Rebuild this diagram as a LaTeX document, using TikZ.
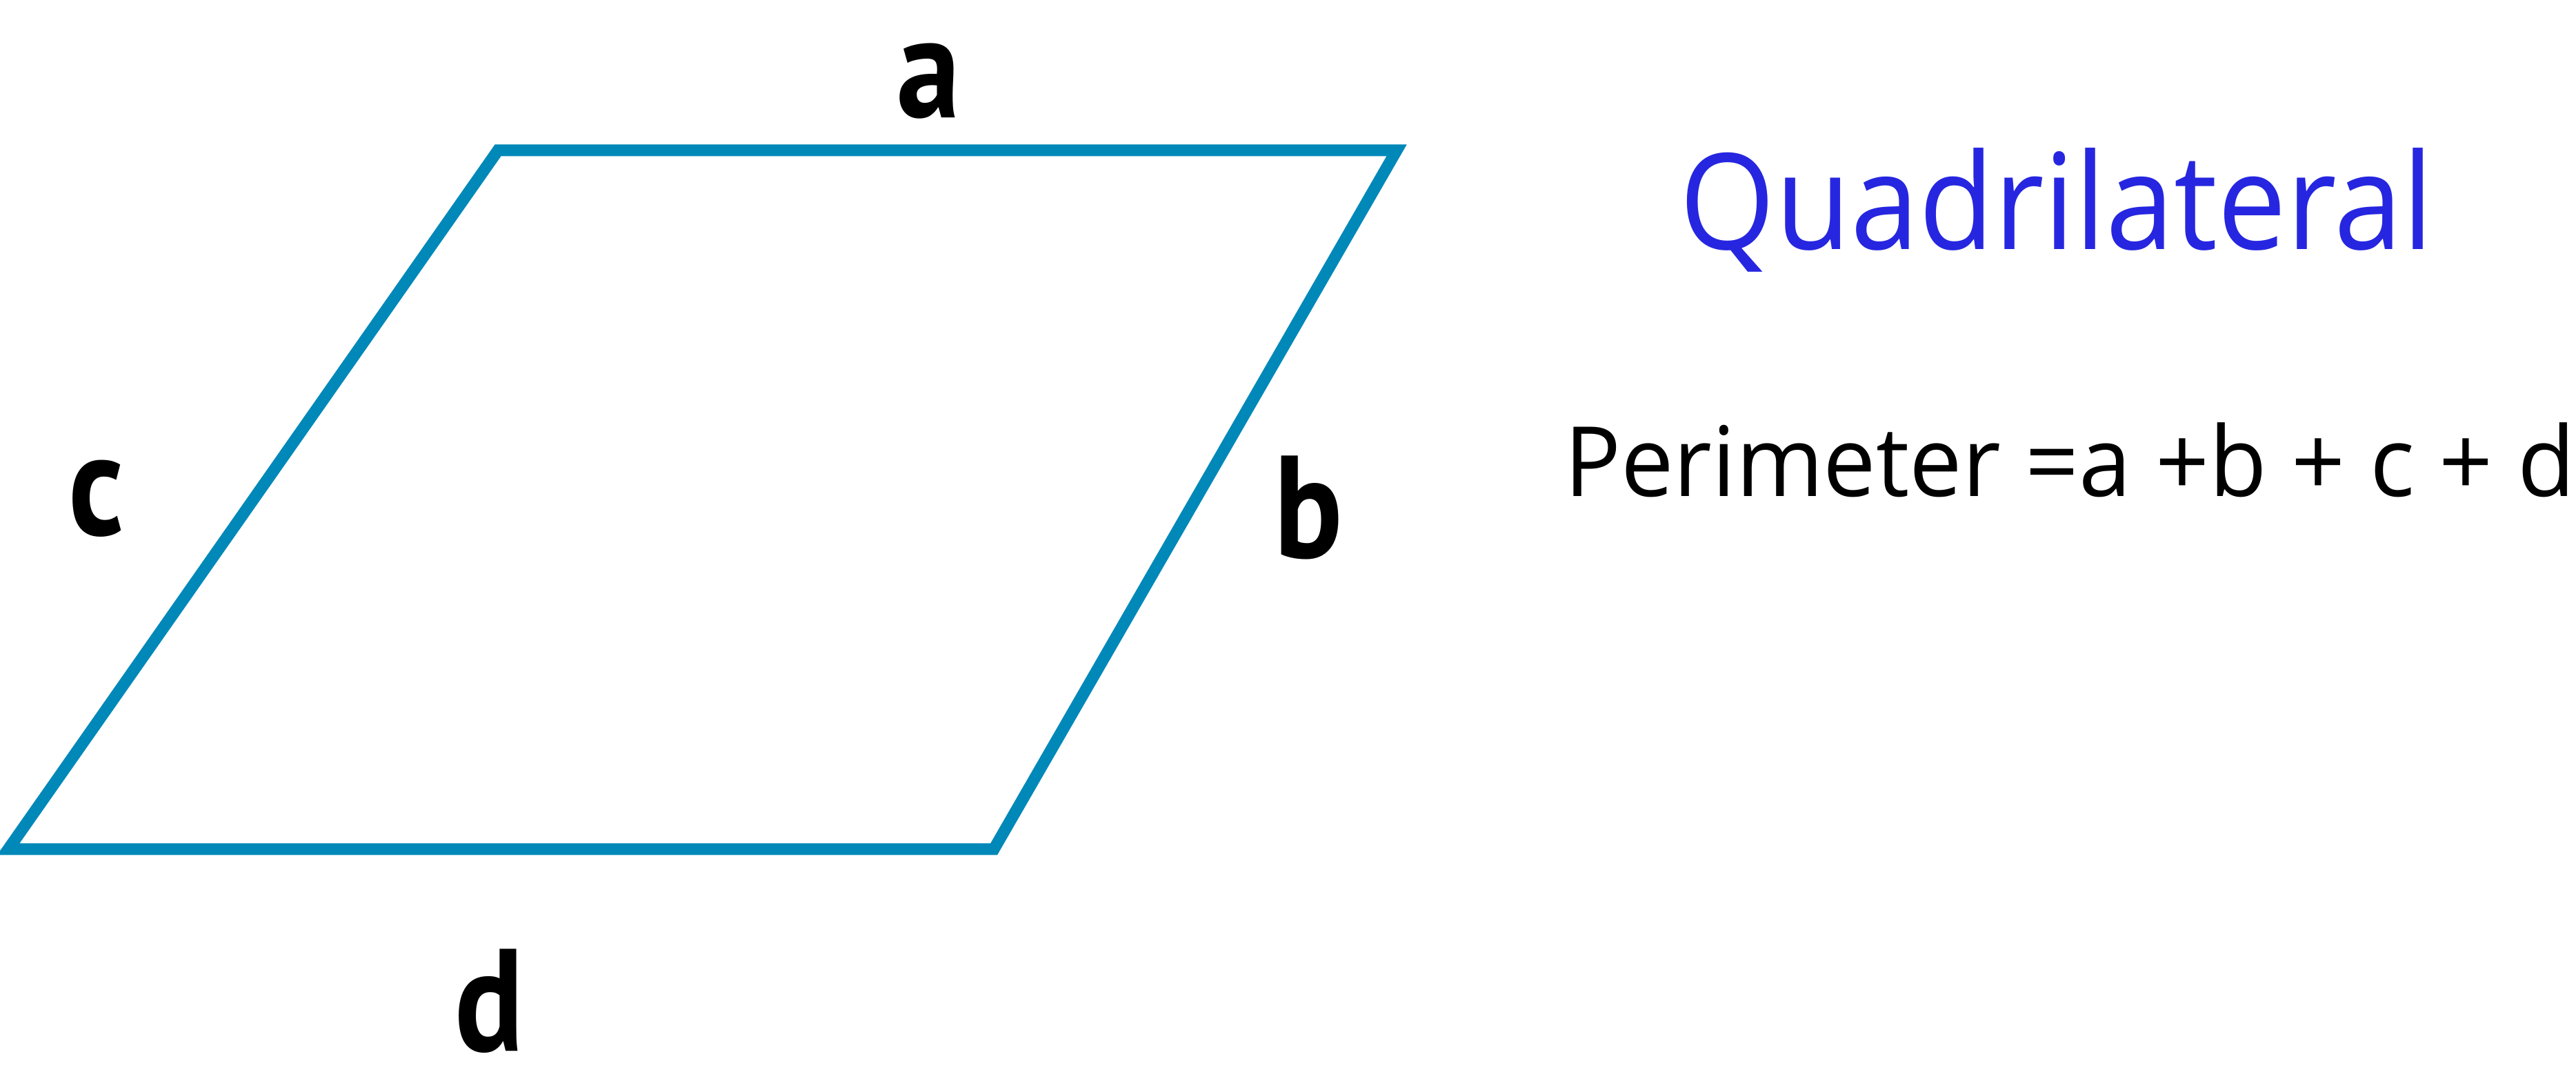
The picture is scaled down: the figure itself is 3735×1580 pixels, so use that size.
\documentclass[tikz,border=0pt]{standalone}
\usepackage{fontspec}
\setmainfont[FakeStretch=0.92]{Open Sans}
\newfontfamily\formulafont[FakeStretch=0.97]{Open Sans}
\newfontfamily\labelfont[FakeStretch=0.88]{PT Sans}
\usepackage{xcolor}
\definecolor{edgeblue}{HTML}{0088B8}
\definecolor{titleblue}{HTML}{2626E0}

\begin{document}
\begin{tikzpicture}[x=0.01cm,y=-0.01cm,
  sidelabel/.style={anchor=base,inner sep=0pt,font=\labelfont\bfseries\fontsize{60pt}{64pt}\selectfont},
  side/.style={draw=edgeblue,line width=0.17cm,line join=miter}]
  \useasboundingbox (0,0) rectangle (3735,1580);
  % corners of the quadrilateral
  \coordinate (tl) at (722,218);
  \coordinate (tr) at (2025,218);
  \coordinate (br) at (1441,1231);
  \coordinate (bl) at (12,1231);
  \draw[side] (tl) -- (tr) -- (br) -- (bl) -- cycle;
  % side names
  \node[sidelabel] (la) at (1347,171) {a};
  \node[sidelabel] (lb) at (1897,809) {b};
  \node[sidelabel] (lc) at (140,776) {c};
  \node[sidelabel] (ld) at (710,1524) {d};
  % title and formula
  \node[anchor=base,inner sep=0pt,text=titleblue,font=\fontsize{55pt}{60pt}\selectfont] (title) at (2982,362) {Quadrilateral};
  \node[anchor=base,inner sep=0pt,font=\formulafont\fontsize{40pt}{46pt}\selectfont] (formula) at (3001,720) {Perimeter =a +b + c + d};
\end{tikzpicture}
\end{document}
